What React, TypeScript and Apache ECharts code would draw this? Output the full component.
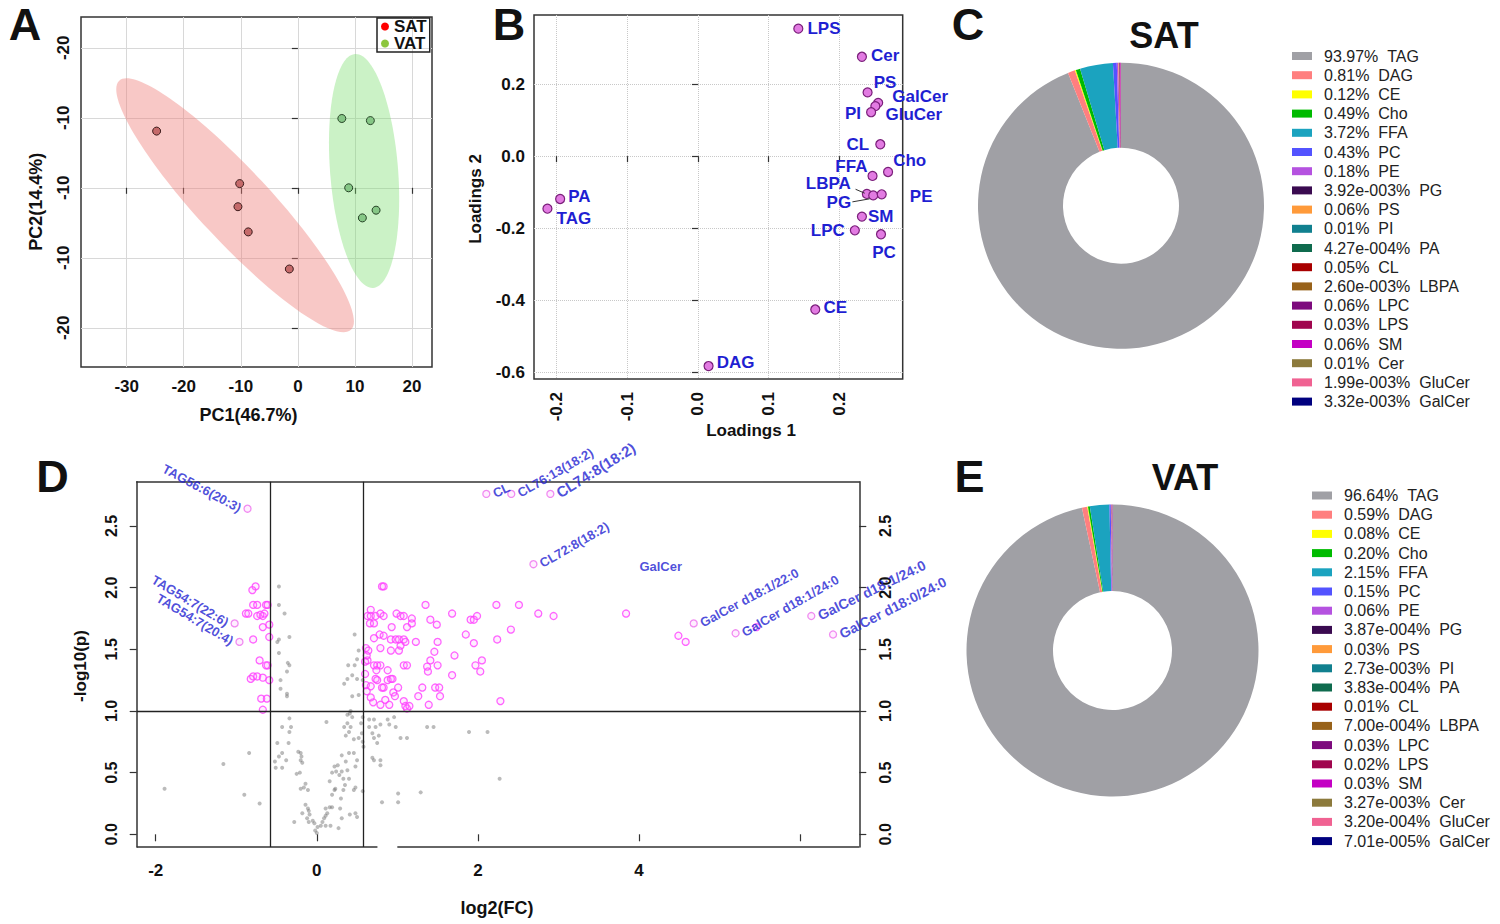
import React, { useEffect, useRef } from "react";
import * as echarts from "echarts";

const FONT = "'Liberation Sans', Arial, Helvetica, sans-serif";
const BLUE = "#1f1fd2";
const AXIS_COLOR = "#333";

// ---------------- Panel A : PCA scores ----------------
const satScores: number[][] = [
  [-24.75, 8.1], [-10.2, 0.6], [-10.5, -2.7], [-8.7, -6.3], [-1.5, -11.6],
];
const vatScores: number[][] = [
  [7.7, 9.9], [12.7, 9.6], [8.9, 0.0], [13.7, -3.2], [11.3, -4.3],
];
// confidence ellipses: two tips of the major axis [x1, y1, x2, y2]
const satEllipseTips = [-31.3, 15.3, 9.3, -20.3];
const vatEllipseTips = [10.0, 19.1, 13.2, -14.3];
const pcaXTicks = [-30, -20, -10, 0, 10, 20];
const pcaYTicks = [20, 10, 0, -10, -20];
const pcaYTickLabels = ["-20", "-10", "-10", "-10", "-20"];

// ---------------- Panel B : loadings ----------------
const loadingNames = ["LPS", "Cer", "PS", "GalCer", "GluCer", "PI", "CL", "Cho", "FFA", "LBPA", "PG", "PE", "SM", "LPC", "PC", "CE", "DAG", "PA", "TAG"];
const loading1 = [0.142, 0.232, 0.240, 0.255, 0.251, 0.245, 0.258, 0.269, 0.247, 0.239, 0.248, 0.260, 0.232, 0.222, 0.259, 0.166, 0.015, -0.195, -0.213];
const loading2 = [0.354, 0.276, 0.177, 0.148, 0.139, 0.122, 0.033, -0.044, -0.055, -0.105, -0.109, -0.106, -0.168, -0.206, -0.217, -0.426, -0.583, -0.119, -0.146];
const leaderLBPA = [[0.223, -0.092], [0.236, -0.103]];
const leaderPG = [[0.2185, -0.127], [0.243, -0.1186]];
const loadXTicks = [-0.2, -0.1, 0, 0.1, 0.2];
const loadYTicks = [-0.6, -0.4, -0.2, 0, 0.2];

// ---------------- Panel D : volcano ----------------
const volcanoGray: number[][] = [
  [-1.89, 0.37], [-1.16, 0.57], [-0.90, 0.32], [-0.84, 0.66], [-0.71, 0.25],
  [-0.47, 2.01], [-0.47, 1.86], [-0.40, 1.79], [-0.49, 1.56], [-0.47, 1.58], [-0.34, 1.60], [-0.47, 1.47],
  [-0.36, 1.39], [-0.34, 1.37], [-0.37, 1.32], [-0.45, 1.25], [-0.45, 1.18], [-0.37, 1.14], [-0.37, 1.12],
  [-0.34, 0.94], [-0.43, 0.87], [-0.32, 0.87], [-0.34, 0.83], [-0.49, 0.74], [-0.35, 0.74], [-0.43, 0.66],
  [-0.47, 0.63], [-0.52, 0.59], [-0.38, 0.60], [-0.51, 0.54], [-0.43, 0.54],
  [-0.23, 0.67], [-0.20, 0.66], [-0.19, 0.63], [-0.20, 0.60], [-0.18, 0.58], [-0.25, 0.49], [-0.21, 0.50],
  [-0.14, 0.41], [-0.16, 0.38], [-0.20, 0.37], [-0.11, 0.36],
  [-0.14, 0.24], [-0.11, 0.21], [-0.10, 0.19], [-0.18, 0.17], [-0.09, 0.16], [-0.05, 0.11], [-0.10, 0.10],
  [-0.03, 0.09], [0.01, 0.06], [0.00, 0.01], [-0.28, 0.10], [-0.02, 0.03], [-0.12, 0.13],
  [0.05, 0.07], [0.07, 0.10], [0.09, 0.13], [0.11, 0.15], [0.13, 0.17], [0.11, 0.21], [0.16, 0.22],
  [0.19, 0.22], [0.29, 0.21], [0.27, 0.05], [0.17, 0.07], [0.11, 0.07],
  [0.31, 0.13], [0.41, 0.16], [0.48, 0.17], [0.50, 0.14],
  [0.30, 0.29], [0.19, 0.32], [0.22, 0.36], [0.16, 0.43], [0.23, 0.37], [0.33, 0.36], [0.35, 0.40],
  [0.33, 0.45], [0.28, 0.48], [0.24, 0.51], [0.22, 0.55], [0.19, 0.50], [0.26, 0.56], [0.31, 0.51],
  [0.38, 0.52], [0.40, 0.45], [0.46, 0.36], [0.48, 0.38], [0.57, 0.35],
  [0.31, 0.64], [0.40, 0.66], [0.46, 0.66], [0.50, 0.60], [0.48, 0.55], [0.36, 0.59],
  [0.36, 0.80], [0.40, 0.83], [0.42, 0.87], [0.34, 0.87], [0.38, 0.90], [0.44, 0.95], [0.41, 0.98],
  [0.46, 0.77], [0.52, 0.78], [0.56, 0.82], [0.57, 0.75], [0.58, 0.71], [0.12, 0.91], [0.57, 0.95], [0.55, 0.90],
  [0.47, 1.62], [0.52, 1.49], [0.50, 1.42], [0.47, 1.37], [0.39, 1.37], [0.44, 1.29], [0.38, 1.26],
  [0.34, 1.22], [0.50, 1.26], [0.57, 1.25], [0.44, 1.12], [0.52, 1.13], [0.42, 1.00], [0.38, 0.97],
  [0.65, 0.93], [0.71, 0.93], [0.65, 0.87], [0.73, 0.87], [0.79, 0.89], [0.88, 0.93], [0.90, 0.89],
  [0.98, 0.87], [1.04, 0.78], [1.12, 0.78], [0.69, 0.82], [0.71, 0.78], [0.75, 0.74], [0.77, 0.80],
  [0.69, 0.62], [0.71, 0.60], [0.79, 0.60], [0.79, 0.56], [0.96, 0.95],
  [1.37, 0.87], [1.45, 0.87], [1.89, 0.83], [2.12, 0.83], [0.81, 0.26], [1.01, 0.33], [1.01, 0.26],
  [1.29, 0.34], [2.27, 0.45],
];
const volcanoSig: number[][] = [
  [-0.76, 2.01], [-0.80, 1.98], [-0.79, 1.86], [-0.74, 1.86], [-0.63, 1.86], [-0.61, 1.86], [-0.88, 1.79],
  [-0.85, 1.79], [-0.74, 1.77], [-0.67, 1.77], [-0.65, 1.79], [-0.70, 1.78], [-0.67, 1.68], [-0.59, 1.70],
  [-0.79, 1.58], [-0.59, 1.60], [-0.71, 1.41], [-0.61, 1.37], [-0.63, 1.37], [-0.82, 1.26], [-0.79, 1.28],
  [-0.74, 1.28], [-0.67, 1.27], [-0.59, 1.25], [-0.69, 1.10], [-0.62, 1.10], [-0.67, 1.01],
  [0.81, 2.01], [0.83, 2.01], [0.67, 1.82], [0.63, 1.77], [0.67, 1.77], [0.73, 1.77], [0.79, 1.79],
  [0.83, 1.77], [0.66, 1.71], [0.71, 1.71], [0.99, 1.79], [1.04, 1.77], [1.08, 1.77], [1.18, 1.75],
  [1.18, 1.71], [1.12, 1.68], [0.93, 1.68], [1.35, 1.86], [1.41, 1.74], [1.49, 1.70], [1.68, 1.79],
  [1.91, 1.74], [1.95, 1.74], [1.99, 1.77], [2.23, 1.86], [0.78, 1.62], [0.83, 1.61], [0.71, 1.59],
  [0.92, 1.58], [0.98, 1.58], [1.02, 1.58], [1.08, 1.58], [1.10, 1.56], [1.23, 1.56], [1.50, 1.56],
  [1.85, 1.62], [1.95, 1.55], [2.24, 1.58], [0.61, 1.51], [0.64, 1.49], [0.79, 1.51], [0.92, 1.49],
  [1.02, 1.49], [1.04, 1.53], [1.46, 1.48], [1.71, 1.45], [0.63, 1.41], [0.71, 1.37], [0.75, 1.37],
  [0.79, 1.37], [0.74, 1.33], [0.88, 1.33], [1.08, 1.37], [1.12, 1.37], [1.37, 1.36], [1.41, 1.41],
  [1.50, 1.37], [1.38, 1.32], [1.68, 1.29], [1.97, 1.37], [2.05, 1.41], [2.03, 1.32], [0.61, 1.21],
  [0.67, 1.20], [0.73, 1.26], [0.75, 1.25], [0.83, 1.19], [0.81, 1.19], [0.88, 1.25], [0.92, 1.26],
  [0.94, 1.26], [0.95, 1.15], [1.01, 1.19], [1.31, 1.19], [1.47, 1.19], [1.52, 1.19], [0.67, 1.11],
  [0.70, 1.07], [0.79, 1.05], [0.90, 1.05], [0.85, 1.09], [0.97, 1.12], [1.08, 1.08], [1.10, 1.04],
  [1.12, 1.02], [1.15, 1.04], [1.26, 1.12], [1.39, 1.05], [1.53, 1.12], [2.28, 1.08],
  [0.62, 1.45], [0.60, 1.30], [0.62, 1.16], [0.60, 1.40],
  [2.41, 1.66], [2.51, 1.86], [2.75, 1.79], [2.94, 1.77], [3.84, 1.79], [4.49, 1.61], [4.58, 1.56], [5.46, 1.68],
];
const volcanoLabelNames = ["TAG56:6(20:3)", "TAG54:7(22:6)", "TAG54:7(20:4)", "CL", "CL76:13(18:2)", "CL74:8(18:2)", "CL72:8(18:2)", "GalCer d18:1/22:0", "GalCer d18:1/24:0", "GalCer d18:1/24:0", "GalCer d18:0/24:0"];
const volcanoLabelFC = [-0.86, -1.02, -0.96, 2.105, 2.415, 2.90, 2.69, 4.68, 5.20, 6.14, 6.41];
const volcanoLabelP = [2.64, 1.71, 1.56, 2.76, 2.76, 2.76, 2.19, 1.71, 1.63, 1.77, 1.62];
const classNoteText = "GalCer";
const classNotePos = [4.27, 2.17];
const fcThresholds = [-0.585, 0.585];
const pThreshold = 1.0;
const fcTicks = [-2, 0, 2, 4, 6];
const fcLabelTicks = [-2, 0, 2, 4];
const pTicks = [0, 0.5, 1, 1.5, 2, 2.5];
const fcAxisGap = [0.753, 1.0];

// ---------------- Panels C & E : composition ----------------
const lipidClasses = ["TAG", "DAG", "CE", "Cho", "FFA", "PC", "PE", "PG", "PS", "PI", "PA", "CL", "LBPA", "LPC", "LPS", "SM", "Cer", "GluCer", "GalCer"];
const satPct = [93.97, 0.81, 0.12, 0.49, 3.72, 0.43, 0.18, 0.00392, 0.06, 0.01, 0.000427, 0.05, 0.0026, 0.06, 0.03, 0.06, 0.01, 0.00199, 0.00332];
const satPctLabels = ["93.97%", "0.81%", "0.12%", "0.49%", "3.72%", "0.43%", "0.18%", "3.92e-003%", "0.06%", "0.01%", "4.27e-004%", "0.05%", "2.60e-003%", "0.06%", "0.03%", "0.06%", "0.01%", "1.99e-003%", "3.32e-003%"];
const vatPct = [96.64, 0.59, 0.08, 0.20, 2.15, 0.15, 0.06, 0.000387, 0.03, 0.00273, 0.000383, 0.01, 0.0007, 0.03, 0.02, 0.03, 0.00327, 0.00032, 0.0000701];
const vatPctLabels = ["96.64%", "0.59%", "0.08%", "0.20%", "2.15%", "0.15%", "0.06%", "3.87e-004%", "0.03%", "2.73e-003%", "3.83e-004%", "0.01%", "7.00e-004%", "0.03%", "0.02%", "0.03%", "3.27e-003%", "3.20e-004%", "7.01e-005%"];
const classColors = ["#a0a0a5", "#ff7f7f", "#ffff00", "#00bb00", "#1ba3bf", "#5353ff", "#b552e0", "#3a0a50", "#ff9a3a", "#11808f", "#0f6b4e", "#a80000", "#98621a", "#7d0a7d", "#a0064e", "#c400c4", "#8c7a3c", "#f06292", "#00007f"];

// ---------------- styles (not data) ----------------
const ellipseStyle = [
  { ry: 36, fill: "rgba(239,124,119,0.42)" },
  { ry: 34, fill: "rgba(118,222,105,0.38)" },
];
const loadingLabelPlace: Record<string, { position: string; offset: number[] }> = {
  LPS: { position: "right", offset: [-1, 0] },
  Cer: { position: "right", offset: [-1, -1] },
  PS: { position: "right", offset: [-4, -10] },
  GalCer: { position: "right", offset: [4, -6] },
  GluCer: { position: "right", offset: [0, 8] },
  PI: { position: "left", offset: [0, 1] },
  CL: { position: "left", offset: [-1, 0] },
  Cho: { position: "right", offset: [-5, -11] },
  FFA: { position: "left", offset: [5, -9] },
  LBPA: { position: "left", offset: [-6, -10] },
  PG: { position: "left", offset: [-12, 7] },
  PE: { position: "right", offset: [18, 2] },
  SM: { position: "right", offset: [-4, 0] },
  LPC: { position: "left", offset: [0, 0] },
  PC: { position: "bottom", offset: [3, 0] },
  CE: { position: "right", offset: [-2, -2] },
  DAG: { position: "right", offset: [-2, -4] },
  PA: { position: "right", offset: [-2, -2] },
  TAG: { position: "right", offset: [-1, 10] },
};
const volcanoLabelStyle = [
  { position: "left", rotate: -28, fontSize: 13 },
  { position: "left", rotate: -31, fontSize: 13 },
  { position: "left", rotate: -31, fontSize: 13 },
  { position: "right", rotate: 25, fontSize: 13 },
  { position: "right", rotate: 30, fontSize: 13 },
  { position: "right", rotate: 32, fontSize: 15 },
  { position: "right", rotate: 30, fontSize: 13 },
  { position: "right", rotate: 28, fontSize: 13 },
  { position: "right", rotate: 30, fontSize: 13 },
  { position: "right", rotate: 26, fontSize: 14 },
  { position: "right", rotate: 27, fontSize: 14 },
];

const tickLabel = (values: number[], labels: string[]) => (v: number) => {
  const i = values.findIndex((t) => Math.abs(t - v) < 1e-6);
  return i >= 0 ? labels[i] : "";
};

function buildOption(): any {
  const boldLabel = { fontFamily: FONT, fontWeight: "bold", color: "#111" };
  const tick = (vals: number[]) => ({ show: true, length: 6, customValues: vals, lineStyle: { color: AXIS_COLOR, width: 1.2 } });
  const none = { show: false };

  const gridBox = { show: true, borderColor: AXIS_COLOR, borderWidth: 1.5, backgroundColor: "transparent", outerBoundsMode: "none", containLabel: false };

  const graphicText = (text: string, x: number, y: number, font: string, rotation = 0) => ({
    type: "text",
    x,
    y,
    rotation,
    silent: true,
    style: { text, font, fill: "#111", textAlign: "center", align: "center", textVerticalAlign: "middle", verticalAlign: "middle" },
  });

  const pieLegend = (left: number, top: number, labels: string[]) => ({
    data: lipidClasses, orient: "vertical", left, top, padding: 0,
    itemWidth: 20, itemHeight: 8, itemGap: 3.2, icon: "rect", selectedMode: false,
    textStyle: { fontFamily: FONT, fontSize: 16, lineHeight: 15, color: "#222", padding: [0, 0, 0, 7] },
    formatter: (n: string) => `${labels[lipidClasses.indexOf(n)]}\u00a0\u00a0${n}`,
  });

  return {
    animation: false,
    backgroundColor: "#fff",
    textStyle: { fontFamily: FONT },
    grid: [
      { ...gridBox, left: 81, top: 17, width: 351, height: 350 },
      { ...gridBox, left: 534, top: 15, width: 368.7, height: 364 },
      { show: false, left: 136.7, top: 481.7, width: 722.6, height: 365.3, outerBoundsMode: "none", containLabel: false },
    ],
    xAxis: [
      {
        gridIndex: 0, type: "value", min: -38, max: 23.5,
        axisLine: none, axisTick: tick(pcaXTicks),
        axisLabel: { ...boldLabel, fontSize: 17, margin: 11, customValues: pcaXTicks },
        splitLine: { show: true, lineStyle: { color: "#d8d8d8", width: 1 } },
      },
      {
        gridIndex: 1, type: "value", min: -0.232, max: 0.2897,
        axisLine: none, axisTick: tick(loadXTicks),
        axisLabel: { ...boldLabel, fontSize: 17, margin: 13, rotate: 90, customValues: loadXTicks, formatter: (v: number) => v.toFixed(1) },
        splitLine: { show: true, lineStyle: { color: "#c8c8c8", width: 1, type: "dotted" } },
      },
      {
        gridIndex: 2, type: "value", min: -2.236, max: 6.736,
        axisLine: none, axisTick: { ...tick(fcTicks), length: 7 },
        axisLabel: { ...boldLabel, fontSize: 17, margin: 15, customValues: fcLabelTicks },
        splitLine: none,
      },
      {
        gridIndex: 2, type: "value", position: "top", min: -2.236, max: 6.736,
        axisLine: { show: true, onZero: false, lineStyle: { color: AXIS_COLOR, width: 1.5 } },
        axisTick: none, axisLabel: none, splitLine: none,
      },
    ],
    yAxis: [
      {
        gridIndex: 0, type: "value", min: -25.6, max: 24.4,
        axisLine: none, axisTick: tick(pcaYTicks),
        axisLabel: { ...boldLabel, fontSize: 17, margin: 9, rotate: 90, customValues: pcaYTicks, formatter: tickLabel(pcaYTicks, pcaYTickLabels) },
        splitLine: { show: true, lineStyle: { color: "#d8d8d8", width: 1 } },
      },
      {
        gridIndex: 1, type: "value", min: -0.619, max: 0.392,
        axisLine: none, axisTick: tick(loadYTicks),
        axisLabel: { ...boldLabel, fontSize: 17, margin: 9, customValues: loadYTicks, formatter: (v: number) => v.toFixed(1) },
        splitLine: { show: true, lineStyle: { color: "#c8c8c8", width: 1, type: "dotted" } },
      },
      {
        gridIndex: 2, type: "value", min: -0.103, max: 2.859,
        axisLine: { show: true, onZero: false, lineStyle: { color: AXIS_COLOR, width: 1.5 } },
        axisTick: { ...tick(pTicks), length: 7 },
        axisLabel: { ...boldLabel, fontSize: 16, margin: 17, rotate: 90, customValues: pTicks, formatter: (v: number) => v.toFixed(1) },
        splitLine: none,
      },
      {
        gridIndex: 2, type: "value", position: "right", min: -0.103, max: 2.859,
        axisLine: { show: true, onZero: false, lineStyle: { color: AXIS_COLOR, width: 1.5 } },
        axisTick: { ...tick(pTicks), length: 7 },
        axisLabel: { ...boldLabel, fontSize: 16, margin: 18, rotate: 90, customValues: pTicks, formatter: (v: number) => v.toFixed(1) },
        splitLine: none,
      },
    ],
    legend: [
      {
        data: [
          { name: "SAT", itemStyle: { color: "#ff0000", borderWidth: 0 } },
          { name: "VAT", itemStyle: { color: "#8cc63e", borderWidth: 0 } },
        ],
        orient: "vertical", left: 377, top: 18, padding: [0, 3, 0, 4], itemGap: 0,
        itemWidth: 8, itemHeight: 8, icon: "circle", selectedMode: false,
        borderColor: "#222", borderWidth: 1.5,
        textStyle: { fontFamily: FONT, fontWeight: "bold", fontSize: 17, lineHeight: 15, color: "#111" },
      },
      pieLegend(1292, 48, satPctLabels),
      pieLegend(1312, 487.5, vatPctLabels),
    ],
    series: [
      {
        type: "custom", name: "ellipses", xAxisIndex: 0, yAxisIndex: 0, silent: true, clip: true,
        encode: { x: [0, 2], y: [1, 3] },
        data: [satEllipseTips, vatEllipseTips],
        renderItem: (params: any, api: any) => {
          const p1 = api.coord([api.value(0), api.value(1)]);
          const p2 = api.coord([api.value(2), api.value(3)]);
          const dx = p2[0] - p1[0];
          const dy = p2[1] - p1[1];
          const st = ellipseStyle[params.dataIndex];
          return {
            type: "ellipse",
            x: (p1[0] + p2[0]) / 2,
            y: (p1[1] + p2[1]) / 2,
            rotation: -Math.atan2(dy, dx),
            shape: { cx: 0, cy: 0, rx: Math.sqrt(dx * dx + dy * dy) / 2, ry: st.ry },
            style: { fill: st.fill, stroke: "none" },
          };
        },
      },
      {
        type: "scatter", name: "SAT", xAxisIndex: 0, yAxisIndex: 0, data: satScores, symbolSize: 8,
        itemStyle: { color: "#c56a6a", borderColor: "#3d1c1c", borderWidth: 1, opacity: 1 }, emphasis: { disabled: true },
      },
      {
        type: "scatter", name: "VAT", xAxisIndex: 0, yAxisIndex: 0, data: vatScores, symbolSize: 8,
        itemStyle: { color: "#86c786", borderColor: "#264426", borderWidth: 1, opacity: 1 }, emphasis: { disabled: true },
      },
      {
        type: "scatter", name: "loadings", xAxisIndex: 1, yAxisIndex: 1, symbolSize: 9,
        itemStyle: { color: "#e27be2", borderColor: "#7a1f7a", borderWidth: 1.2, opacity: 1 },
        emphasis: { disabled: true }, clip: false,
        label: { show: true, formatter: "{b}", color: BLUE, fontFamily: FONT, fontWeight: "bold", fontSize: 17, distance: 5 },
        data: loadingNames.map((n, i) => ({
          name: n,
          value: [loading1[i], loading2[i]],
          label: { position: loadingLabelPlace[n].position, offset: loadingLabelPlace[n].offset },
        })),
      },
      {
        type: "line", name: "leaderLBPA", xAxisIndex: 1, yAxisIndex: 1, data: leaderLBPA, symbol: "none",
        lineStyle: { color: "#333", width: 1 }, silent: true,
      },
      {
        type: "line", name: "leaderPG", xAxisIndex: 1, yAxisIndex: 1, data: leaderPG, symbol: "none",
        lineStyle: { color: "#333", width: 1 }, silent: true,
      },
      {
        type: "scatter", name: "not significant", xAxisIndex: 2, yAxisIndex: 2, data: volcanoGray, symbolSize: 4,
        itemStyle: { color: "rgba(100,100,100,0.55)" }, emphasis: { disabled: true },
        markLine: {
          silent: true, symbol: "none", label: { show: false },
          lineStyle: { color: "#222", width: 1.3, type: "solid" },
          data: [...fcThresholds.map((v) => ({ xAxis: v })), { yAxis: pThreshold }],
        },
      },
      {
        type: "scatter", name: "significant", xAxisIndex: 2, yAxisIndex: 2, data: volcanoSig, symbolSize: 7,
        itemStyle: { color: "rgba(255,150,255,0.2)", borderColor: "#ff40ff", borderWidth: 1.3 }, emphasis: { disabled: true },
      },
      {
        type: "scatter", name: "labelled", xAxisIndex: 2, yAxisIndex: 2, symbolSize: 7, clip: false,
        itemStyle: { color: "rgba(255,150,255,0.2)", borderColor: "#ee70ee", borderWidth: 1.3 }, emphasis: { disabled: true },
        label: { show: true, formatter: "{b}", color: BLUE, fontFamily: FONT, fontWeight: "bold", fontSize: 13, distance: 3 },
        data: volcanoLabelNames.map((n, i) => ({
          name: n,
          value: [volcanoLabelFC[i], volcanoLabelP[i]],
          label: {
            position: volcanoLabelStyle[i].position,
            rotate: volcanoLabelStyle[i].rotate,
            fontSize: volcanoLabelStyle[i].fontSize,
          },
        })),
      },
      {
        type: "scatter", name: "note", xAxisIndex: 2, yAxisIndex: 2, symbolSize: 1, clip: false,
        itemStyle: { color: "transparent" }, emphasis: { disabled: true },
        label: { show: true, position: "inside", formatter: "{b}", color: BLUE, fontFamily: FONT, fontWeight: "bold", fontSize: 13 },
        data: [{ name: classNoteText, value: classNotePos }],
      },
      {
        type: "line", name: "axisLeft", xAxisIndex: 2, yAxisIndex: 2, symbol: "none", clip: false, silent: true,
        lineStyle: { color: AXIS_COLOR, width: 1.5 },
        data: [[-2.236, -0.103], [fcAxisGap[0], -0.103]],
      },
      {
        type: "line", name: "axisRight", xAxisIndex: 2, yAxisIndex: 2, symbol: "none", clip: false, silent: true,
        lineStyle: { color: AXIS_COLOR, width: 1.5 },
        data: [[fcAxisGap[1], -0.103], [6.736, -0.103]],
      },
      {
        type: "pie", name: "SAT composition", center: [1121, 205.7], radius: [58, 143], startAngle: 90, clockwise: true,
        silent: true, label: { show: false }, labelLine: { show: false }, itemStyle: { borderWidth: 0 },
        data: lipidClasses.map((n, i) => ({ name: n, value: satPct[i], itemStyle: { color: classColors[i] } })),
      },
      {
        type: "pie", name: "VAT composition", center: [1112.5, 650.5], radius: [59.5, 146], startAngle: 90, clockwise: true,
        silent: true, label: { show: false }, labelLine: { show: false }, itemStyle: { borderWidth: 0 },
        data: lipidClasses.map((n, i) => ({ name: n, value: vatPct[i], itemStyle: { color: classColors[i] } })),
      },
    ],
    graphic: [
      graphicText("A", 25, 24, `bold 45px ${FONT}`),
      graphicText("B", 509, 24, `bold 45px ${FONT}`),
      graphicText("C", 968, 24, `bold 45px ${FONT}`),
      graphicText("D", 52.5, 476, `bold 45px ${FONT}`),
      graphicText("E", 969.5, 476, `bold 45px ${FONT}`),
      graphicText("SAT", 1164, 35, `bold 36px ${FONT}`),
      graphicText("VAT", 1185, 477, `bold 36px ${FONT}`),
      graphicText("PC1(46.7%)", 248.5, 415, `bold 18px ${FONT}`),
      graphicText("PC2(14.4%)", 36, 201.7, `bold 18px ${FONT}`, Math.PI / 2),
      graphicText("Loadings 1", 751, 430, `bold 17px ${FONT}`),
      graphicText("Loadings 2", 475, 199, `bold 17px ${FONT}`, Math.PI / 2),
      graphicText("-log10(p)", 80.6, 666, `bold 17px ${FONT}`, Math.PI / 2),
      graphicText("log2(FC)", 497, 908, `bold 18px ${FONT}`),
    ],
  };
}

export default function App() {
  const ref = useRef<HTMLDivElement>(null);
  useEffect(() => {
    if (!ref.current) return;
    const chart = echarts.init(ref.current, undefined, { renderer: "svg" });
    chart.setOption(buildOption());
    return () => chart.dispose();
  }, []);
  return (
    <div
      ref={ref}
      style={{ position: "fixed", left: 0, top: 0, width: 1500, height: 924, background: "#fff" }}
    />
  );
}
